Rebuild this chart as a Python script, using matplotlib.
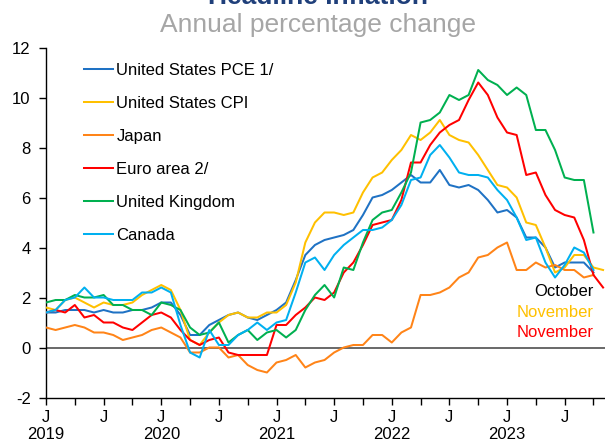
import numpy as np
import pandas as pd
import matplotlib
matplotlib.use("Agg")
import matplotlib.pyplot as plt
from matplotlib.ticker import FixedLocator

plt.rcParams['font.family'] = ['Liberation Sans', 'DejaVu Sans']
plt.rcParams['axes.unicode_minus'] = False

# monthly, starting January 2019
months = pd.date_range('2019-01-01', '2023-11-01', freq='MS')

us_pce = [1.4, 1.4, 1.5, 1.5, 1.5, 1.4, 1.5, 1.4, 1.4, 1.5, 1.5, 1.6,
          1.8, 1.8, 1.3, 0.5, 0.5, 0.9, 1.1, 1.3, 1.4, 1.2, 1.1, 1.3,
          1.5, 1.8, 2.7, 3.7, 4.1, 4.3, 4.4, 4.5, 4.7, 5.3, 6.0, 6.1,
          6.3, 6.6, 6.9, 6.6, 6.6, 7.1, 6.5, 6.4, 6.5, 6.3, 5.9, 5.4,
          5.5, 5.2, 4.4, 4.4, 4.0, 3.2, 3.4, 3.4, 3.4, 3.0]
us_cpi = [1.6, 1.5, 1.9, 2.0, 1.8, 1.6, 1.8, 1.7, 1.7, 1.8, 2.1, 2.3,
          2.5, 2.3, 1.5, 0.3, 0.1, 0.6, 1.0, 1.3, 1.4, 1.2, 1.2, 1.4,
          1.4, 1.7, 2.6, 4.2, 5.0, 5.4, 5.4, 5.3, 5.4, 6.2, 6.8, 7.0,
          7.5, 7.9, 8.5, 8.3, 8.6, 9.1, 8.5, 8.3, 8.2, 7.7, 7.1, 6.5,
          6.4, 6.0, 5.0, 4.9, 4.0, 3.0, 3.2, 3.7, 3.7, 3.2, 3.1]
japan = [0.8, 0.7, 0.8, 0.9, 0.8, 0.6, 0.6, 0.5, 0.3, 0.4, 0.5, 0.7,
         0.8, 0.6, 0.4, -0.2, -0.2, 0.0, 0.0, -0.4, -0.3, -0.7, -0.9, -1.0,
         -0.6, -0.5, -0.3, -0.8, -0.6, -0.5, -0.2, 0.0, 0.1, 0.1, 0.5, 0.5,
         0.2, 0.6, 0.8, 2.1, 2.1, 2.2, 2.4, 2.8, 3.0, 3.6, 3.7, 4.0,
         4.2, 3.1, 3.1, 3.4, 3.2, 3.3, 3.1, 3.1, 2.8, 2.9]
euro = [1.4, 1.5, 1.4, 1.7, 1.2, 1.3, 1.0, 1.0, 0.8, 0.7, 1.0, 1.3,
        1.4, 1.2, 0.7, 0.3, 0.1, 0.3, 0.4, -0.2, -0.3, -0.3, -0.3, -0.3,
        0.9, 0.9, 1.3, 1.6, 2.0, 1.9, 2.2, 3.0, 3.4, 4.1, 4.9, 5.0,
        5.1, 5.9, 7.4, 7.4, 8.1, 8.6, 8.9, 9.1, 9.9, 10.6, 10.1, 9.2,
        8.6, 8.5, 6.9, 7.0, 6.1, 5.5, 5.3, 5.2, 4.3, 2.9, 2.4]
uk = [1.8, 1.9, 1.9, 2.1, 2.0, 2.0, 2.1, 1.7, 1.7, 1.5, 1.5, 1.3,
      1.8, 1.7, 1.5, 0.8, 0.5, 0.6, 1.0, 0.2, 0.5, 0.7, 0.3, 0.6,
      0.7, 0.4, 0.7, 1.5, 2.1, 2.5, 2.0, 3.2, 3.1, 4.2, 5.1, 5.4,
      5.5, 6.2, 7.0, 9.0, 9.1, 9.4, 10.1, 9.9, 10.1, 11.1, 10.7, 10.5,
      10.1, 10.4, 10.1, 8.7, 8.7, 7.9, 6.8, 6.7, 6.7, 4.6]
canada = [1.4, 1.5, 1.9, 2.0, 2.4, 2.0, 2.0, 1.9, 1.9, 1.9, 2.2, 2.2,
          2.4, 2.2, 0.9, -0.2, -0.4, 0.7, 0.1, 0.1, 0.5, 0.7, 1.0, 0.7,
          1.0, 1.1, 2.2, 3.4, 3.6, 3.1, 3.7, 4.1, 4.4, 4.7, 4.7, 4.8,
          5.1, 5.7, 6.7, 6.8, 7.7, 8.1, 7.6, 7.0, 6.9, 6.9, 6.8, 6.3,
          5.9, 5.2, 4.3, 4.4, 3.4, 2.8, 3.3, 4.0, 3.8, 3.1]

series = [
    ('United States PCE 1/', us_pce, '#1F72C4'),
    ('United States CPI', us_cpi, '#FFC000'),
    ('Japan', japan, '#FF8418'),
    ('Euro area 2/', euro, '#FF0000'),
    ('United Kingdom', uk, '#00B050'),
    ('Canada', canada, '#00B0F0'),
]

fig = plt.figure(figsize=(6.05, 4.43), dpi=100)
ax = fig.add_axes([46 / 605, 1 - 397.5 / 443, 559 / 605, 350 / 443])

idx = np.arange(len(months))
for name, vals, col in series:
    ax.plot(idx[:len(vals)], vals, color=col, lw=1.45, label=name, zorder=3)

ax.axhline(0, color='#404040', lw=1.1, zorder=2)

ax.set_ylim(-2, 12)
ax.set_xlim(0, 58.2)
ax.set_yticks(range(-2, 13, 2))

major = idx[::6]
labels = []
for m in major:
    d = months[m]
    labels.append('J\n%d' % d.year if d.month == 1 else 'J')
ax.xaxis.set_major_locator(FixedLocator(major))
ax.set_xticklabels(labels)
ax.xaxis.set_minor_locator(FixedLocator(idx[3::6]))

ax.tick_params(axis='both', which='both', direction='out', length=5, width=1,
               labelsize=12, colors='black')
ax.tick_params(axis='y', pad=6)
ax.tick_params(axis='x', pad=4)

for s in ['top', 'right']:
    ax.spines[s].set_visible(False)
for s in ['left', 'bottom']:
    ax.spines[s].set_linewidth(1)
    ax.spines[s].set_color('black')

leg = ax.legend(loc='upper left', bbox_to_anchor=(84 / 605, 1 - 63 / 443),
                bbox_transform=fig.transFigure, frameon=False, fontsize=12,
                handlelength=1.75, handletextpad=0.2, labelspacing=1.08,
                borderpad=0, borderaxespad=0)

# end-of-data notes
ax.text(57, 2.23, 'October', ha='right', va='center', fontsize=12, color='black')
ax.text(57, 1.41, 'November', ha='right', va='center', fontsize=12, color='#FFC000')
ax.text(57, 0.61, 'November', ha='right', va='center', fontsize=12, color='#FF0000')

fig.text(318 / 605, 1 - 4 / 443, 'Headline Inflation', ha='center', va='baseline',
         fontsize=19, fontweight='bold', color='#1F3F7A')
fig.text(318 / 605, 1 - 32 / 443, 'Annual percentage change', ha='center',
         va='baseline', fontsize=19, color='#A6A6A6')

fig.savefig('out.png', dpi=100)
